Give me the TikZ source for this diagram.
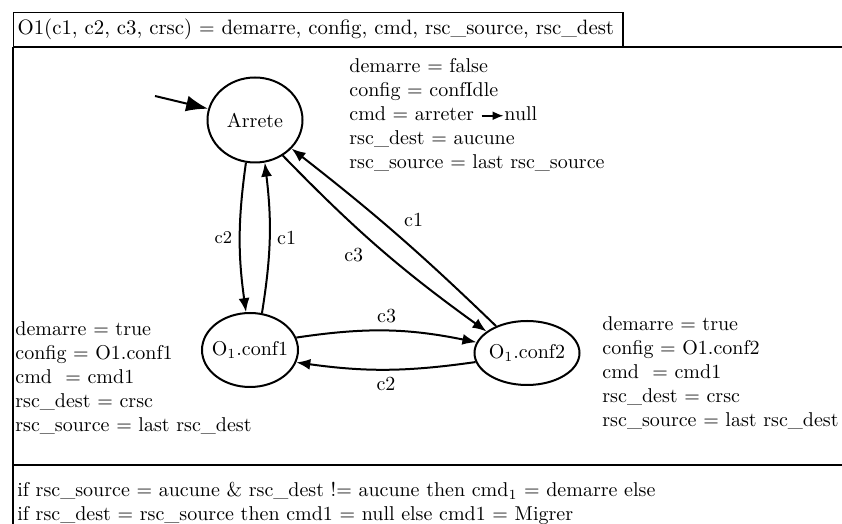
\documentclass[tikz,border=0pt]{standalone}
\usepackage{xcolor}
\usepackage{tikz}
\usetikzlibrary{shapes.geometric,arrows.meta}

\newcommand{\petitefleche}{\tikz[baseline=-0.55ex]\draw[-{Latex[length=5.5pt,width=4.5pt]},line width=0.9pt](0pt,0pt) -- (11pt,0pt);}

\begin{document}
\begin{tikzpicture}[x=0.5pt,y=0.5pt]
			\tikzstyle{state} = [draw, ellipse, line width=1pt, inner sep=0pt]
			\tikzstyle{vars} = [anchor=north west, align=left, inner sep=0pt]
			\tikzset{edge/.style = {->, >= {Latex[length=7pt,width=5.5pt]}, line width=1pt}}
			
			\useasboundingbox (0,0) rectangle (842,524);
			
			\node[draw, anchor=north west, minimum height=17pt, minimum width=304pt, inner xsep=2pt, align=left, line width=0.6pt, font=\fontsize{10.4pt}{12pt}\selectfont](entete) at (13,512) {O1(c1, c2, c3, crsc) $=$ demarre, config, cmd, rsc\_source, rsc\_dest\hspace{2.5pt}};
			\draw[line width=0.9pt] (entete.south west) -- ++(829,0);
			\draw[line width=0.8pt] (entete.south west) -- (13,0);
			\draw[line width=0.9pt] (13,59) -- (842,59);
			
			\node[state, minimum width=47.5pt, minimum height=42.5pt](arrete) at (255,404) {\makebox[0pt]{Arrete}};
			\node[state, minimum width=48pt, minimum height=37pt](conf1) at (250,174) {\makebox[0pt]{O$_1$.conf1}};
			\node[state, minimum width=52.5pt, minimum height=32pt](conf2) at (527,171) {\makebox[0pt]{O$_1$.conf2}};
			
			\coordinate (depart) at (155,428);
			\draw[edge, >= {Latex[length=11pt,width=8pt]}](depart) -- (arrete);
			\draw[edge](arrete.258) to[bend right=8] node[left]{\small c2} (conf1.96)
			;
			\draw[edge](conf1.72) to[bend right=8] node[right]{c1} (arrete.283);
			\draw[edge](arrete.308) to[bend right=5] node[pos=0.45, below left]{c3} (conf2.152);
			\draw[edge](conf2.139) to[bend right=3] node[pos=0.5, above right]{c1} (arrete.322);
			\draw[edge](conf1.15) to[bend left=10] node[above]{c3} (conf2.168);
			\draw[edge](conf2.190) to[bend left=8] node[below]{c2} (conf1.345);
			
			\node[vars](varsArrete) at (349,466) {demarre $=$ false\\ config $=$ confIdle\\ cmd $=$ arreter \petitefleche null\\ rsc\_dest $=$ aucune\\ rsc\_source $=$ last rsc\_source};
			\node[vars](varsConf1) at (15,203) {demarre $=$ true\\ config $=$ O1.conf1\\ cmd\ \ $=$ cmd1\\ rsc\_dest $=$ crsc\\ rsc\_source $=$ last rsc\_dest};
			\node[vars](varsConf2) at (602,208) {demarre $=$ true\\ config $=$ O1.conf2\\ cmd\ \ $=$ cmd1\\ rsc\_dest $=$ crsc\\ rsc\_source $=$ last rsc\_dest};
			
			\node[vars](condition) at (17,42) {if rsc\_source $=$ aucune \& rsc\_dest !$=$ aucune then cmd$_1$ $=$ demarre else\\ if rsc\_dest $=$ rsc\_source then cmd1 $=$ null else cmd1 $=$ Migrer};
			
			\end{tikzpicture}
\end{document}
